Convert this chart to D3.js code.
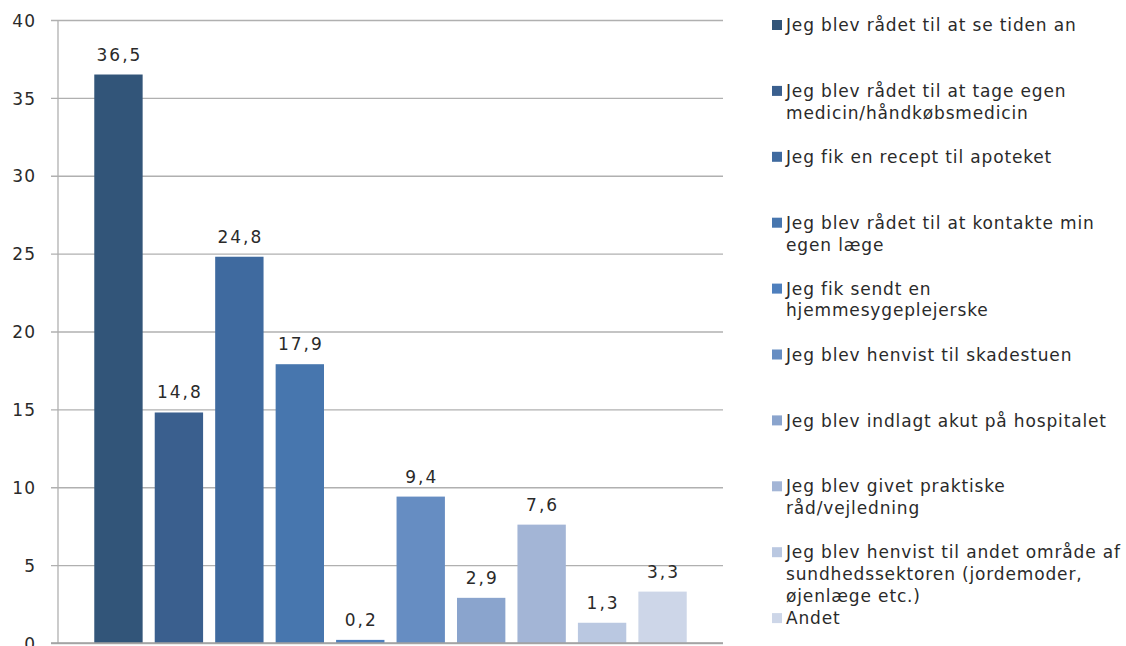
<!DOCTYPE html>
<html>
<head>
<meta charset="utf-8">
<script src="https://cdn.jsdelivr.net/npm/d3@7"></script>
<style>
  html, body { margin: 0; padding: 0; background: #fff; }
  svg { display: block; }
  text { font-family: "DejaVu Sans", Verdana, sans-serif; fill: #2a2a2a; }
</style>
</head>
<body>
<svg id="chart" width="1126" height="646"></svg>
<script>
// Svar på spørgsmålet om hvad der skete efter henvendelsen (procent)
const categories = [
  "Jeg blev rådet til at se tiden an",
  "Jeg blev rådet til at tage egen medicin/håndkøbsmedicin",
  "Jeg fik en recept til apoteket",
  "Jeg blev rådet til at kontakte min egen læge",
  "Jeg fik sendt en hjemmesygeplejerske",
  "Jeg blev henvist til skadestuen",
  "Jeg blev indlagt akut på hospitalet",
  "Jeg blev givet praktiske råd/vejledning",
  "Jeg blev henvist til andet område af sundhedssektoren (jordemoder, øjenlæge etc.)",
  "Andet"
];
// Legend lines as wrapped in the legend box
const legendLines = [
  ["Jeg blev rådet til at se tiden an"],
  ["Jeg blev rådet til at tage egen", "medicin/håndkøbsmedicin"],
  ["Jeg fik en recept til apoteket"],
  ["Jeg blev rådet til at kontakte min", "egen læge"],
  ["Jeg fik sendt en", "hjemmesygeplejerske"],
  ["Jeg blev henvist til skadestuen"],
  ["Jeg blev indlagt akut på hospitalet"],
  ["Jeg blev givet praktiske", "råd/vejledning"],
  ["Jeg blev henvist til andet område af", "sundhedssektoren (jordemoder,", "øjenlæge etc.)"],
  ["Andet"]
];
const values = [36.5, 14.8, 24.8, 17.9, 0.2, 9.4, 2.9, 7.6, 1.3, 3.3];
const colors = ["#325579", "#3a5f8e", "#3f6a9f", "#4776ae", "#4e7fbd",
                "#668dc2", "#8aa4cd", "#a3b5d6", "#bac8e1", "#cdd6e8"];
const yTicks = [0, 5, 10, 15, 20, 25, 30, 35, 40];

const svg = d3.select("#chart");
const plot = { left: 58, right: 723, top: 20, bottom: 643 };

const x = d3.scaleBand()
  .domain(categories)
  .range([plot.left, plot.right])
  .paddingInner(0.2)
  .paddingOuter(0.6);

const y = d3.scaleLinear()
  .domain([0, 40])
  .range([plot.bottom, plot.top]);

const fmt = v => String(v.toFixed(1)).replace(".", ",");

// Gridlines and y axis
const yAxis = d3.axisLeft(y)
  .tickValues(yTicks)
  .tickSize(-(plot.right - plot.left))
  .tickPadding(22)
  .tickFormat(d => d);

const gy = svg.append("g")
  .attr("transform", `translate(${plot.left},0)`)
  .call(yAxis);
gy.select(".domain").remove();
gy.selectAll(".tick line")
  .attr("x1", -7)
  .attr("stroke", "#b0b0b0")
  .attr("stroke-width", 1.3);
gy.selectAll(".tick text")
  .attr("font-size", 17)
  .attr("letter-spacing", 1)
  .attr("font-family", "DejaVu Sans, Verdana, sans-serif")
  .attr("fill", "#2a2a2a")
  .attr("dy", "0.36em");

// Vertical axis line
svg.append("line")
  .attr("x1", plot.left).attr("x2", plot.left)
  .attr("y1", plot.top).attr("y2", plot.bottom)
  .attr("stroke", "#b0b0b0").attr("stroke-width", 1.3);

// Bars
svg.append("g").selectAll("rect")
  .data(values)
  .join("rect")
  .attr("x", (d, i) => x(categories[i]))
  .attr("width", x.bandwidth())
  .attr("y", d => y(d))
  .attr("height", d => y(0) - y(d))
  .attr("fill", (d, i) => colors[i]);

// Baseline over bars
svg.append("line")
  .attr("x1", plot.left - 7).attr("x2", plot.right)
  .attr("y1", plot.bottom).attr("y2", plot.bottom)
  .attr("stroke", "#a0a0a0").attr("stroke-width", 1.5);

// Value labels
svg.append("g").selectAll("text")
  .data(values)
  .join("text")
  .attr("x", (d, i) => x(categories[i]) + x.bandwidth() / 2 + 1)
  .attr("y", d => y(d) - 14)
  .attr("text-anchor", "middle")
  .attr("font-size", 17)
  .attr("letter-spacing", 2)
  .text(d => fmt(d));

// Legend
const legend = svg.append("g");
const itemStep = 65.9;
legendLines.forEach((lines, i) => {
  const cy = 25 + i * itemStep;
  legend.append("rect")
    .attr("x", 772).attr("y", cy - 5)
    .attr("width", 10).attr("height", 10)
    .attr("fill", colors[i]);
  lines.forEach((line, j) => {
    legend.append("text")
      .attr("x", 786)
      .attr("y", cy + j * 21.7)
      .attr("dy", "0.36em")
      .attr("font-size", 17)
      .attr("letter-spacing", 0.85)
      .text(line);
  });
});
</script>
</body>
</html>
